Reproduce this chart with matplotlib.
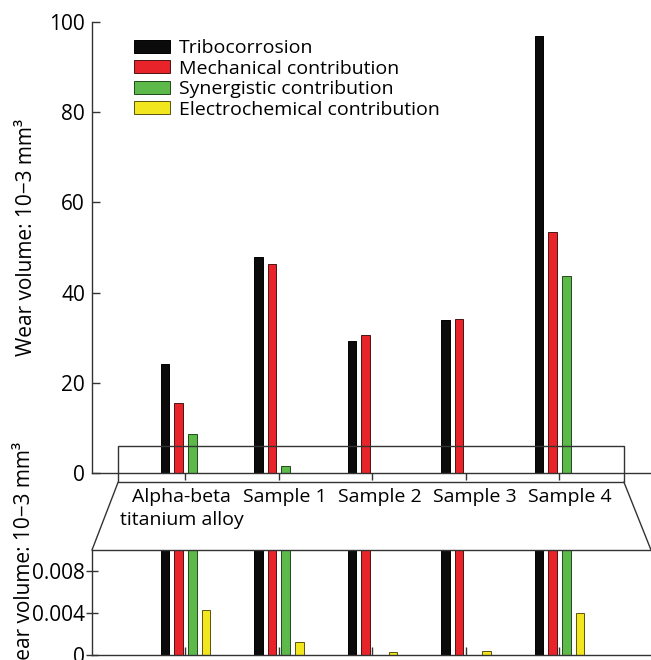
import numpy as np
import matplotlib
matplotlib.use("Agg")
import matplotlib.pyplot as plt
from matplotlib.patches import Rectangle, Patch, ConnectionPatch

plt.rcParams['font.family'] = ['Open Sans', 'DejaVu Sans']

categories = ["Alpha-beta\ntitanium alloy", "Sample 1", "Sample 2", "Sample 3", "Sample 4"]
series_names = ["Tribocorrosion", "Mechanical contribution",
                "Synergistic contribution", "Electrochemical contribution"]
tribocorrosion = [24.2, 47.8, 29.3, 34.0, 97.0]
mechanical = [15.6, 46.4, 30.6, 34.2, 53.4]
synergistic = [8.6, 1.5, np.nan, np.nan, 43.6]
electrochemical = [0.00427, 0.00122, 0.00026, 0.00039, 0.00398]
top_yticks = [0, 20, 40, 60, 80, 100]
bot_yticks = [0, 0.004, 0.008]
bot_yticklabels = ["0", "0.004", "0.008"]
ylabel = "Wear volume: 10\u22123 mm\u00b3"

colors = ["#0b0b0b", "#e8232a", "#5db94a", "#f2e61e"]
edges = ["#000000", "#4a1414", "#1f4a1a", "#5a5410"]
series = [tribocorrosion, mechanical, synergistic, electrochemical]

W, H = 651, 660
fig = plt.figure(figsize=(W / 100, H / 100), dpi=100)

def fx(px):
    return px / W

def fy(py):
    return 1 - py / H

left_px, right_px = 92, 651
ax = fig.add_axes([fx(left_px), fy(473), fx(right_px - left_px), fy(22) - fy(473)])
axb = fig.add_axes([fx(left_px), fy(655), fx(right_px - left_px), fy(550) - fy(655)])

x = np.arange(len(categories))
offsets = [-0.219, -0.073, 0.073, 0.219]
label_shift = [-0.04, 0.06, 0.08, 0.10, 0.11]
width = 0.093
axcol = "#333333"
fs = 14
fs_tick = 15

for a in (ax, axb):
    for vals, off, c, e in zip(series, offsets, colors, edges):
        a.bar(x + off, vals, width=width, color=c, edgecolor=e, linewidth=0.7, zorder=2)
    a.set_xlim(-1.0, 4.98)
    a.set_xticks(x)
    for s in a.spines.values():
        s.set_color(axcol)
        s.set_linewidth(1.0)

# top panel
ax.set_ylim(0, 100)
ax.set_yticks(top_yticks)
ax.spines['top'].set_visible(False)
ax.spines['right'].set_visible(False)
ax.tick_params(axis='y', direction='in', length=6, width=1, color=axcol, labelsize=fs_tick, pad=5)
ax.tick_params(axis='x', direction='out', length=5, width=1, color=axcol, labelbottom=False)
for xi, dx, lab in zip(x, label_shift, categories):
    ax.annotate(lab, xy=(xi + dx, 0), xycoords=('data', 'axes fraction'),
                xytext=(0, -11), textcoords='offset points', ha='center', va='top',
                fontsize=fs, linespacing=1.35, annotation_clip=False)

# zoom box on top panel
box_x0, box_x1, box_y0, box_y1 = -0.72, 4.69, -2.0, 6.0
ax.add_patch(Rectangle((box_x0, box_y0), box_x1 - box_x0, box_y1 - box_y0,
                       fill=False, edgecolor=axcol, linewidth=1.0, clip_on=False, zorder=5))

# bottom panel
axb.set_ylim(0, 0.01)
axb.set_yticks(bot_yticks)
axb.set_yticklabels(bot_yticklabels)
axb.spines['right'].set_visible(False)
axb.tick_params(axis='y', direction='inout', length=8, width=1, color=axcol, labelsize=fs_tick, pad=1)
axb.tick_params(axis='x', direction='in', length=6, width=1, color=axcol, labelbottom=False)

for (xa, xb) in ((box_x0, 0.0), (box_x1, 1.0)):
    con = ConnectionPatch(xyA=(xa, box_y0), coordsA=ax.transData,
                          xyB=(xb, 1.0), coordsB=axb.transAxes,
                          color=axcol, linewidth=1.0)
    fig.add_artist(con)

# legend
handles = [Patch(facecolor=c, edgecolor=e, linewidth=0.7) for c, e in zip(colors, edges)]
fig.legend(handles, series_names, loc='upper left', bbox_to_anchor=(fx(134), fy(39)),
           frameon=False, fontsize=fs, handlelength=1.85, handleheight=0.67,
           handletextpad=0.46, labelspacing=0.13, borderpad=0, borderaxespad=0)

fig.text(fx(27), fy(237), ylabel, rotation=90, ha='center', va='center', fontsize=fs_tick)
fig.text(fx(25), fy(560), ylabel, rotation=90, ha='center', va='center', fontsize=fs_tick)

fig.savefig("out.png", dpi=100)
